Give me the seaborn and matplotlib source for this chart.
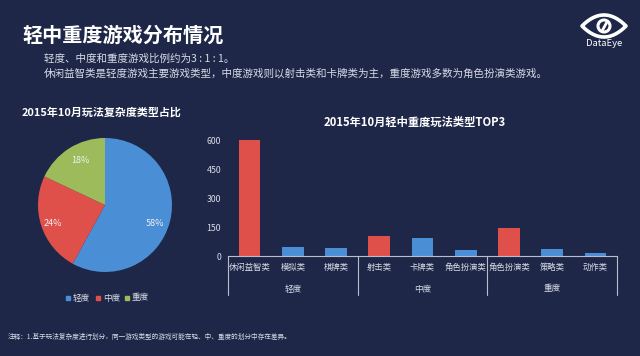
import matplotlib
matplotlib.use("Agg")
import matplotlib.pyplot as plt
import seaborn as sns
import pandas as pd
import numpy as np
from matplotlib.patches import Circle, Polygon
from matplotlib.transforms import blended_transform_factory

# ---- data ----
pie_labels = ["轻度", "中度", "重度"]
pie_values = [58, 24, 18]

bar_categories = ["休闲益智类", "模拟类", "棋牌类", "射击类", "卡牌类", "角色扮演类", "角色扮演类", "策略类", "动作类"]
bar_values = [603, 45, 40, 103, 92, 30, 148, 37, 16]
bar_highlight = ["top", "other", "other", "top", "other", "other", "top", "other", "other"]
group_labels = ["轻度", "中度", "重度"]
y_ticks = [0, 150, 300, 450, 600]

BG = "#1e2748"
BLUE = "#4a8fd6"
RED = "#e0504b"
GREEN = "#9dbb5a"
TXT = "#d8dce6"

sns.set_theme(style="white")
plt.rcParams["font.family"] = ["Noto Sans CJK SC", "DejaVu Sans"]

W, H = 640, 356
fig = plt.figure(figsize=(6.4, 3.56), dpi=100, facecolor=BG)

def px(x0, y0, x1, y1):
    return [x0 / W, 1 - y1 / H, (x1 - x0) / W, (y1 - y0) / H]

# ---- headings ----
fig.text(22 / W, 1 - 35 / H, "轻中重度游戏分布情况", color="white", fontsize=14.5,
         fontweight="bold", va="center", ha="left")
fig.text(44 / W, 1 - 59 / H, "轻度、中度和重度游戏比例约为3 : 1 : 1。", color=TXT,
         fontsize=7.6, va="center", ha="left")
fig.text(44 / W, 1 - 73 / H,
         "休闲益智类是轻度游戏主要游戏类型，中度游戏则以射击类和卡牌类为主，重度游戏多数为角色扮演类游戏。",
         color=TXT, fontsize=7.6, va="center", ha="left")
fig.text(22 / W, 1 - 112 / H, "2015年10月玩法复杂度类型占比", color="white", fontsize=7.9,
         fontweight="bold", va="center", ha="left")
fig.text(415 / W, 1 - 122 / H, "2015年10月轻中重度玩法类型TOP3", color="white", fontsize=8.1,
         fontweight="bold", va="center", ha="center")
fig.text(8 / W, 1 - 337 / H,
         "注释：1.基于玩法复杂度进行划分，同一游戏类型的游戏可能在轻、中、重度的划分中存在差异。",
         color=TXT, fontsize=4.8, va="center", ha="left")

# ---- logo ----
lax = fig.add_axes(px(576, 6, 632, 52))
lax.set_xlim(576, 632)
lax.set_ylim(52, 6)
lax.axis("off")
cx, cy, hw, hh = 604, 26, 22, 11
xs = np.linspace(-hw, hw, 40)
ys = hh * (1 - (xs / hw) ** 2)
top = np.column_stack([cx + xs, cy - ys])
bot = np.column_stack([cx + xs[::-1], cy + ys[::-1]])
lax.add_patch(Polygon(np.vstack([top, bot]), closed=True, fill=False, ec="white", lw=2.6,
                      joinstyle="round"))
lax.add_patch(Circle((cx, cy), 6, fill=False, ec="white", lw=2.2))
lax.plot([cx - 2, cx + 3], [cy + 5, cy - 4], color="white", lw=2)
lax.text(cx, 43, "DataEye", color="white", fontsize=6.8, ha="center", va="center")

# ---- pie ----
pax = fig.add_axes(px(38, 138, 172, 272))
pax.set_facecolor(BG)
wedges, _ = pax.pie(pie_values, colors=[BLUE, RED, GREEN], startangle=90,
                    counterclock=False, radius=1,
                    wedgeprops=dict(linewidth=0))
pax.set_xlim(-1.0, 1.0)
pax.set_ylim(-1.0, 1.0)
pax.set_aspect("equal")
pax.axis("off")
label_pos = [(0.75, -0.27), (-0.78, -0.27), (-0.37, 0.66)]
for (lx, ly), v in zip(label_pos, pie_values):
    pax.text(lx, ly, f"{v}%", color="#f0f0f0", fontsize=6.5, ha="center", va="center")

# legend under pie
leg_x = [66, 96, 125]
for x, lab, col in zip(leg_x, pie_labels, [BLUE, RED, GREEN]):
    fig.patches.append(plt.Rectangle((x / W, 1 - 300 / H), 4 / W, 4 / H,
                                     transform=fig.transFigure, color=col, figure=fig))
    fig.text((x + 7) / W, 1 - 298 / H, lab, color=TXT, fontsize=6.2, va="center", ha="left")

# ---- bar chart ----
bax = fig.add_axes(px(228, 133.3, 617, 256))
bax.set_facecolor(BG)
df = pd.DataFrame({
    "pos": list(range(len(bar_categories))),
    "value": bar_values,
    "kind": bar_highlight,
})
sns.barplot(data=df, x="pos", y="value", hue="kind", palette={"top": RED, "other": BLUE},
            dodge=False, width=0.5, legend=False, ax=bax, saturation=1, linewidth=0)
bax.set_xlim(-0.5, len(bar_categories) - 0.5)
bax.set_ylim(0, 640)
bax.set_yticks(y_ticks)
bax.set_yticklabels([str(t) for t in y_ticks], color=TXT, fontsize=6.3)
bax.set_xticks(range(len(bar_categories)))
bax.set_xticklabels(bar_categories, color=TXT, fontsize=6.0)
bax.tick_params(axis="x", length=0, pad=5)
bax.tick_params(axis="y", length=0, pad=5)
bax.set_xlabel("")
bax.set_ylabel("")
for s in ["top", "right", "left"]:
    bax.spines[s].set_visible(False)
bax.spines["bottom"].set_color("#b8bfcc")
bax.spines["bottom"].set_linewidth(0.8)

trans = blended_transform_factory(bax.transData, bax.transAxes)
for xb in [-0.5, 2.5, 5.5, 8.5]:
    bax.plot([xb, xb], [0, -0.32], transform=trans, color="#b8bfcc", lw=0.8, clip_on=False)
for i, g in enumerate(group_labels):
    bax.text(3 * i + 1, -0.27, g, transform=trans, color=TXT, fontsize=6.2,
             ha="center", va="center")

fig.savefig("out.png", dpi=100, facecolor=BG)
